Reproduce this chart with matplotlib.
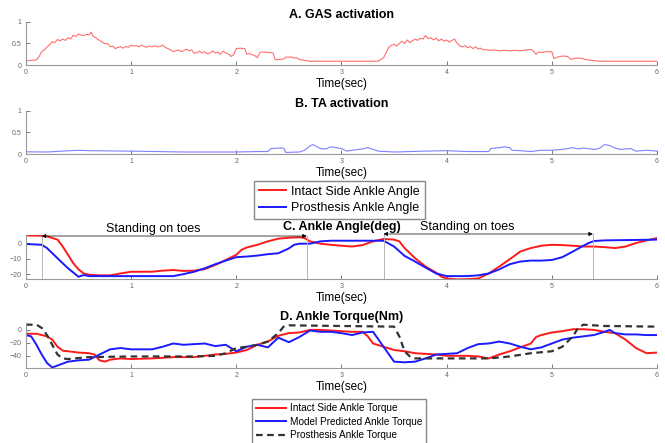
import numpy as np
import matplotlib.pyplot as plt

plt.rcParams['font.family'] = ['Liberation Sans Narrow', 'Liberation Sans', 'DejaVu Sans']

# A. GAS activation
gas_t = [0.00, 0.05, 0.10, 0.125, 0.15, 0.175, 0.20, 0.225, 0.25, 0.275, 0.30, 0.325, 0.35, 0.375,
         0.40, 0.425, 0.45, 0.475, 0.50, 0.525, 0.55, 0.575, 0.60, 0.62, 0.64, 0.66, 0.68, 0.70,
         0.725, 0.75, 0.775, 0.80, 0.825, 0.85, 0.875, 0.90, 0.925, 0.95, 0.975, 1.00, 1.025, 1.05,
         1.075, 1.10, 1.125, 1.15, 1.175, 1.20, 1.225, 1.25, 1.275, 1.30, 1.325, 1.35, 1.375, 1.40,
         1.425, 1.45, 1.475, 1.50, 1.525, 1.55, 1.575, 1.60, 1.625, 1.65, 1.675, 1.70, 1.725, 1.75,
         1.775, 1.80, 1.825, 1.85, 1.875, 1.90, 1.925, 1.95, 1.975, 2.00, 2.04, 2.08, 2.10, 2.125,
         2.15, 2.175, 2.20, 2.225, 2.25, 2.275, 2.30, 2.35, 2.37, 2.40, 2.45, 2.475, 2.50, 2.525,
         2.55, 2.575, 2.60, 2.65, 2.70, 3.35, 3.40, 3.45, 3.475, 3.50, 3.525, 3.55, 3.575, 3.60,
         3.625, 3.65, 3.675, 3.70, 3.725, 3.75, 3.775, 3.80, 3.825, 3.85, 3.875, 3.90, 3.925, 3.95,
         3.975, 4.00, 4.025, 4.05, 4.075, 4.10, 4.125, 4.15, 4.175, 4.20, 4.225, 4.25, 4.275, 4.30,
         4.325, 4.35, 4.375, 4.40, 4.45, 4.50, 4.55, 4.60, 4.65, 4.70, 4.75, 4.80, 4.825, 4.85,
         4.875, 4.90, 4.95, 5.00, 5.02, 5.05, 5.10, 5.15, 5.18, 5.22, 5.28, 5.32, 5.38, 5.45, 6.00]
gas = [0.10, 0.11, 0.12, 0.20, 0.31, 0.35, 0.42, 0.47, 0.54, 0.52, 0.59, 0.56, 0.60, 0.57,
       0.63, 0.60, 0.69, 0.66, 0.72, 0.69, 0.68, 0.71, 0.70, 0.76, 0.66, 0.64, 0.60, 0.57,
       0.53, 0.49, 0.50, 0.43, 0.44, 0.38, 0.41, 0.42, 0.39, 0.43, 0.41, 0.46, 0.44, 0.45,
       0.42, 0.46, 0.43, 0.41, 0.44, 0.42, 0.45, 0.42, 0.43, 0.46, 0.41, 0.38, 0.35, 0.31,
       0.33, 0.35, 0.31, 0.33, 0.37, 0.33, 0.35, 0.27, 0.29, 0.32, 0.28, 0.31, 0.26, 0.28,
       0.33, 0.28, 0.30, 0.25, 0.32, 0.28, 0.26, 0.20, 0.24, 0.38, 0.39, 0.38, 0.25, 0.27,
       0.24, 0.22, 0.17, 0.29, 0.30, 0.30, 0.29, 0.28, 0.12, 0.13, 0.14, 0.19, 0.18, 0.19,
       0.16, 0.17, 0.13, 0.11, 0.09, 0.09, 0.17, 0.41, 0.46, 0.48, 0.44, 0.50, 0.55, 0.50,
       0.58, 0.52, 0.56, 0.60, 0.57, 0.62, 0.60, 0.68, 0.61, 0.63, 0.58, 0.62, 0.56, 0.60,
       0.55, 0.58, 0.53, 0.57, 0.60, 0.50, 0.45, 0.42, 0.45, 0.40, 0.43, 0.38, 0.42, 0.37,
       0.39, 0.35, 0.36, 0.34, 0.35, 0.33, 0.34, 0.33, 0.34, 0.33, 0.35, 0.36, 0.32, 0.25,
       0.30, 0.29, 0.31, 0.31, 0.15, 0.18, 0.21, 0.20, 0.13, 0.16, 0.16, 0.13, 0.11, 0.09, 0.09]

# B. TA activation
ta_t = [0, 0.2, 0.5, 0.6, 1.0, 1.5, 2.0, 2.2, 2.3, 2.33, 2.4, 2.45, 2.47, 2.6, 2.65, 2.7, 2.73,
        2.8, 2.85, 2.9, 2.95, 3.0, 3.05, 3.1, 3.2, 3.25, 3.3, 3.35, 3.5, 3.8, 4.0, 4.2, 4.4, 4.42,
        4.5, 4.55, 4.6, 4.62, 4.7, 4.8, 4.9, 5.0, 5.1, 5.2, 5.25, 5.3, 5.4, 5.45, 5.5, 5.55, 5.6,
        5.65, 5.7, 5.75, 5.8, 5.9, 6.0]
ta = [0.054, 0.05, 0.09, 0.08, 0.07, 0.05, 0.05, 0.06, 0.06, 0.13, 0.14, 0.14, 0.04, 0.05, 0.09, 0.19, 0.22,
      0.13, 0.12, 0.17, 0.15, 0.13, 0.07, 0.09, 0.12, 0.15, 0.11, 0.07, 0.05, 0.07, 0.08, 0.06, 0.06, 0.13,
      0.15, 0.17, 0.15, 0.09, 0.08, 0.06, 0.09, 0.09, 0.11, 0.15, 0.12, 0.14, 0.11, 0.13, 0.22, 0.20, 0.14,
      0.11, 0.12, 0.13, 0.07, 0.09, 0.07]

# C. Ankle angle (deg)
ang_t = [0, 0.15, 0.2, 0.3, 0.35, 0.4, 0.45, 0.5, 0.55, 0.6, 0.7, 0.8, 0.9, 1.0, 1.1, 1.2, 1.3, 1.4,
         1.5, 1.6, 1.7, 1.8, 1.9, 2.0, 2.05, 2.1, 2.2, 2.3, 2.4, 2.5, 2.6, 2.65, 2.7, 2.8, 2.9, 3.0,
         3.1, 3.2, 3.3, 3.4, 3.5, 3.55, 3.6, 3.7, 3.8, 3.9, 3.95, 4.0, 4.1, 4.2, 4.3, 4.4, 4.5, 4.6,
         4.7, 4.8, 4.9, 5.0, 5.1, 5.2, 5.3, 5.4, 5.5, 5.6, 5.7, 5.8, 5.9, 6.0]
ang_intact = [4.9, 4.7, 4.3, 2.2, -2.2, -7.5, -12.9, -16.8, -19.4, -20.2, -20.6, -20.6, -19.4, -18.3,
              -18.3, -18.3, -17.6, -17.2, -17.8, -17.6, -16.6, -14.0, -10.8, -7.5, -4.3, -2.8, -1.1,
              1.1, 2.8, 3.4, 3.7, 3.2, 1.1, -0.4, -1.1, -1.7, -2.2, -1.3, 1.1, 2.6, 2.2, 1.1, -3.2,
              -9.7, -15.0, -18.9, -21.5, -22.6, -23.2, -23.0, -22.6, -19.4, -15.0, -10.3, -5.4, -3.2,
              -1.7, -1.1, -1.3, -1.7, -2.2, -2.2, -2.6, -3.2, -2.2, 0.0, 1.7, 3.2]
pro_t = [0, 0.15, 0.2, 0.3, 0.4, 0.5, 0.55, 0.6, 1.0, 1.4, 1.5, 1.6, 1.7, 1.8, 1.9, 2.0, 2.1, 2.2,
         2.3, 2.4, 2.5, 2.55, 2.6, 2.7, 2.8, 2.9, 3.4, 3.5, 3.6, 3.7, 3.8, 3.9, 4.0, 4.2, 4.3, 4.4,
         4.5, 4.6, 4.7, 4.8, 4.9, 5.0, 5.1, 5.2, 5.3, 5.35, 5.4, 5.5, 6.0]
ang_prosthesis = [-0.6, -1.1, -3.2, -9.7, -16.1, -21.5, -20.4, -21.1, -21.1, -21.1, -19.8, -18.3,
                  -16.1, -13.5, -11.2, -9.0, -8.6, -8.0, -7.1, -6.5, -3.4, -1.1, -0.4, -0.4, 1.1,
                  1.5, 1.5, -2.2, -8.2, -11.8, -15.7, -19.4, -21.1, -21.1, -20.6, -19.4, -16.8,
                  -13.5, -11.8, -11.2, -11.2, -10.8, -9.0, -5.4, -1.7, 0.0, 1.3, 1.7, 2.2]
toe_marks = [0.15, 2.67, 3.40, 5.39]

# D. Ankle torque (Nm)
tq_it = [0, 0.1, 0.2, 0.25, 0.3, 0.35, 0.4, 0.5, 0.6, 0.65, 0.7, 0.75, 0.8, 0.9, 1.0, 1.2, 1.4, 1.6,
         1.7, 1.8, 1.9, 2.0, 2.1, 2.2, 2.3, 2.4, 2.5, 2.6, 2.7, 2.8, 2.9, 3.0, 3.1, 3.2, 3.25, 3.3,
         3.4, 3.5, 3.6, 3.7, 3.8, 3.9, 4.0, 4.1, 4.2, 4.3, 4.4, 4.5, 4.6, 4.7, 4.8, 4.85, 4.9, 5.0,
         5.1, 5.2, 5.3, 5.4, 5.5, 5.6, 5.7, 5.8, 5.9, 6.0]
tq_intact = [-6, -6, -10, -15, -26, -32, -33, -35, -36, -38, -47, -49, -46, -44, -45, -44, -42, -42,
             -40, -38, -37, -35, -31, -23, -18, -9, -5, -4, 0, 0, -1, -2, -3, -3, -10, -21,
             -26, -31, -33, -36, -37, -38, -40, -40, -40, -41, -44, -38, -33, -27, -21, -11, -8, -4,
             -2, 1, 1, 0, -3, -5, -15, -28, -36, -35]
tq_mt = [0, 0.05, 0.1, 0.15, 0.2, 0.25, 0.3, 0.4, 0.5, 0.6, 0.7, 0.8, 0.9, 1.0, 1.1, 1.2, 1.3, 1.4,
         1.5, 1.6, 1.7, 1.8, 1.9, 2.0, 2.1, 2.2, 2.3, 2.4, 2.5, 2.6, 2.7, 2.8, 2.9, 3.0, 3.1, 3.2,
         3.3, 3.4, 3.5, 3.6, 3.7, 3.8, 3.9, 4.0, 4.1, 4.2, 4.3, 4.4, 4.5, 4.6, 4.7, 4.8, 4.9, 5.0,
         5.1, 5.2, 5.3, 5.4, 5.5, 5.55, 5.6, 5.7, 5.8, 5.9, 6.0]
tq_model = [-8, -10, -23, -38, -51, -58, -55, -49, -47, -46, -38, -30, -28, -30, -30, -30, -26, -21,
            -23, -22, -21, -25, -23, -33, -26, -23, -27, -12, -19, -11, -1, -3, -3, -5, -8, -4,
            -3, -26, -49, -50, -49, -44, -38, -37, -36, -28, -22, -21, -18, -21, -26, -30, -27, -21,
            -15, -12, -10, -8, -3, 0, -5, -7, -7, -8, -8]
tq_pt = [0, 0.1, 0.15, 0.2, 0.25, 0.3, 0.35, 0.4, 0.6, 1.0, 1.6, 1.8, 1.9, 2.0, 2.1, 2.2, 2.3, 2.4,
         2.45, 2.5, 3.0, 3.5, 3.55, 3.6, 3.65, 3.7, 4.0, 4.4, 4.6, 4.8, 5.0, 5.1, 5.2, 5.25, 5.3,
         5.5, 6.0]
tq_prosthesis = [8, 8, 3, -8, -23, -38, -44, -45, -42, -41, -41, -40, -36, -28, -26, -23, -18, -5,
                 5, 7, 6, 5, -10, -33, -41, -44, -44, -44, -41, -36, -33, -26, -10, 3, 8,
                 6, 5]

fig = plt.figure(figsize=(6.65, 4.43), dpi=100)
L, W = 0.039, 0.949
axA = fig.add_axes([L, 0.853, W, 0.098])
axB = fig.add_axes([L, 0.652, W, 0.098])
axC = fig.add_axes([L, 0.370, W, 0.099])
axD = fig.add_axes([L, 0.169, W, 0.101])

for ax in (axA, axB, axC, axD):
    ax.spines['top'].set_visible(False)
    ax.spines['right'].set_visible(False)
    for s in ('left', 'bottom'):
        ax.spines[s].set_color('#9a9a9a')
        ax.spines[s].set_linewidth(0.8)
    ax.tick_params(direction='in', length=3, width=0.7, color='#777777',
                   labelsize=5, labelcolor='#666666', pad=3)
    ax.set_xlim(0, 6)
    ax.set_xticks(range(7))
    ax.set_xlabel('Time(sec)', fontsize=8.5, labelpad=1)

axA.plot(gas_t, gas, color='#ff7070', lw=0.8)
axA.set_ylim(0, 1)
axA.set_yticks([0, 0.5, 1])
axA.set_yticklabels(['0', '0.5', '1'])
axA.set_title('A. GAS activation', fontsize=9, fontweight='bold', pad=3)

axB.plot(ta_t, ta, color='#8080ff', lw=0.8)
axB.set_ylim(0, 1)
axB.set_yticks([0, 0.5, 1])
axB.set_yticklabels(['0', '0.5', '1'])
axB.set_title('B. TA activation', fontsize=9, fontweight='bold', pad=3)

lc1, = axC.plot(ang_t, ang_intact, color='#ff1a1a', lw=1.4, label='Intact Side Ankle Angle')
lc2, = axC.plot(pro_t, ang_prosthesis, color='#1a1aff', lw=1.4, label='Prosthesis Ankle Angle')
axC.set_ylim(-23, 5)
axC.set_yticks([-20, -10, 0])
axC.set_title('C. Ankle Angle(deg)', fontsize=9, fontweight='bold', pad=4)
arrow_y = [4.5, 5.8]
for i in range(2):
    x0, x1 = toe_marks[2 * i], toe_marks[2 * i + 1]
    for x in (x0, x1):
        axC.plot([x, x], [-23, arrow_y[i]], color='#b5b5b5', lw=0.7, clip_on=False)
    axC.annotate('', xy=(x0, arrow_y[i]), xytext=(x1, arrow_y[i]), annotation_clip=False,
                 arrowprops=dict(arrowstyle='<|-|>', color='black', lw=0.5,
                                 mutation_scale=6, shrinkA=0, shrinkB=0))
    axC.text((x0 + x1) / 2 - 0.2, arrow_y[i] + 4.6, 'Standing on toes', fontsize=9,
             ha='center', va='center')

ld1, = axD.plot(tq_it, tq_intact, color='#ff1a1a', lw=1.4, label='Intact Side Ankle Torque')
ld2, = axD.plot(tq_mt, tq_model, color='#1a1aff', lw=1.4, label='Model Predicted Ankle Torque')
ld3, = axD.plot(tq_pt, tq_prosthesis, color='#333333', lw=1.6, ls=(0, (3, 2)),
                label='Prosthesis Ankle Torque')
axD.set_ylim(-59, 10)
axD.set_yticks([-40, -20, 0])
axD.set_title('D. Ankle Torque(Nm)', fontsize=9, fontweight='bold', pad=1)

fig.legend(handles=[lc1, lc2], loc='center', bbox_to_anchor=(0.51, 0.549), fontsize=9,
           fancybox=False, edgecolor='#888888', framealpha=1, handlelength=2.2,
           handletextpad=0.4, borderpad=0.4, labelspacing=0.35, borderaxespad=0)
fig.legend(handles=[ld1, ld2, ld3], loc='center', bbox_to_anchor=(0.51, 0.0485), fontsize=7.2,
           fancybox=False, edgecolor='#888888', framealpha=1, handlelength=3.0,
           handletextpad=0.4, borderpad=0.4, labelspacing=0.35, borderaxespad=0)

fig.savefig('out.png', dpi=100)
